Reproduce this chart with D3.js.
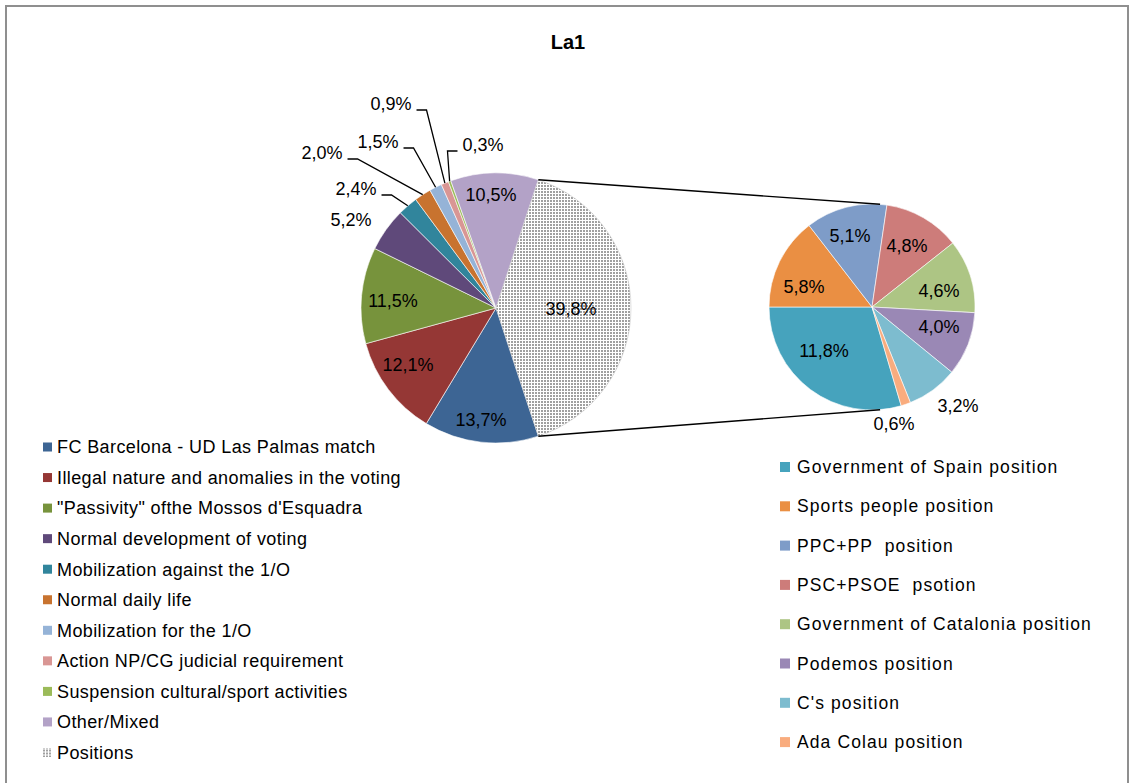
<!DOCTYPE html>
<html><head>
<meta charset="utf-8">
<script src="https://d3js.org/d3.v7.min.js"></script>
<title>La1</title>
<style>
body{margin:0;background:#fff;}
text{font-family:"Liberation Sans", Arial, sans-serif; fill:#000;}
</style>
</head>
<body>
<div id="chart"></div>
<script>
// categories + values (%)
const mainCats = ["FC Barcelona - UD Las Palmas match", "Illegal nature and anomalies in the voting",
  "\"Passivity\" ofthe Mossos d'Esquadra", "Normal development of voting", "Mobilization against the 1/O",
  "Normal daily life", "Mobilization for the 1/O", "Action NP/CG judicial requirement",
  "Suspension cultural/sport activities", "Other/Mixed", "Positions"];
const mainVals = [13.7, 12.1, 11.5, 5.2, 2.4, 2.0, 1.5, 0.9, 0.3, 10.5, 39.8];
const mainColors = ["#3d6594", "#953735", "#77933c", "#5f497a", "#31859c", "#c8732f",
  "#95b3d7", "#d99694", "#9bbb59", "#b3a2c7", "url(#dots)"];

const subCats = ["Government of Spain position", "Sports people position", "PPC+PP  position",
  "PSC+PSOE  psotion", "Government of Catalonia position", "Podemos position", "C's position", "Ada Colau position"];
const subVals = [11.8, 5.8, 5.1, 4.8, 4.6, 4.0, 3.2, 0.6];
const subColors = ["#46a3bd", "#ea8f43", "#7e9cc8", "#cd7c7a", "#adc584", "#9a88b5", "#7dbccf", "#f9ac7e"];

// label placement (offset from pie centre), leader = draw a leader line
const mainLabelPos = [[-15,112],[-88,57],[-103,-7],[-145,-88],[-140,-119],[-174,-155],[-118,-166],[-105,-204],[-13,-163],[-5,-113],[75,1]];
const mainLeader = [0,0,0,0,1,1,1,1,1,0,0];
const subLabelPos = [[-48,44],[-68,-20],[-22,-71],[35,-61],[67,-16],[67,20],[86,99],[22,117]];

const W = 1132, H = 783;
const fmt = v => d3.format(".1f")(v).replace(".", ",") + "%";

const svg = d3.select("#chart").append("svg")
  .attr("width", W).attr("height", H);

const defs = svg.append("defs");
const pat = defs.append("pattern").attr("id", "dots")
  .attr("patternUnits", "userSpaceOnUse").attr("width", 3).attr("height", 3);
pat.append("rect").attr("width", 3).attr("height", 3).attr("fill", "#fff");
pat.append("rect").attr("width", 2).attr("height", 2).attr("fill", "#a0a0a0");

// frame
svg.append("rect").attr("x", 6).attr("y", 6).attr("width", 1122).attr("height", 800)
  .attr("fill", "none").attr("stroke", "#8f8f8f").attr("stroke-width", 2);

svg.append("text").attr("x", 568).attr("y", 49).attr("text-anchor", "middle")
  .style("font-size", "20px").style("font-weight", "bold").text("La1");

// main pie
const cx = 496, cy = 308, R = 135;
const posShare = mainVals[mainVals.length-1] / d3.sum(mainVals);
const pieMain = d3.pie().sort(null).value(d => d)
  .startAngle(Math.PI/2 + posShare*Math.PI).endAngle(Math.PI/2 + posShare*Math.PI + 2*Math.PI);
const arcMain = d3.arc().innerRadius(0).outerRadius(R);
const mainArcs = pieMain(mainVals);

const gMain = svg.append("g").attr("transform", `translate(${cx},${cy})`);
gMain.selectAll("path").data(mainArcs).enter().append("path")
  .attr("d", arcMain)
  .attr("fill", (d,i) => mainColors[i])
  .attr("stroke", (d,i) => i == mainVals.length-1 ? "#c8c8c8" : "#fff")
  .attr("stroke-width", 0.6);

// sub pie
const sx = 872, sy = 307, r2 = 103;
const subStart = 1.5*Math.PI - subVals[0]/d3.sum(subVals)*2*Math.PI;
const pieSub = d3.pie().sort(null).value(d => d)
  .startAngle(subStart).endAngle(subStart + 2*Math.PI);
const arcSub = d3.arc().innerRadius(0).outerRadius(r2);
const subArcs = pieSub(subVals);
const gSub = svg.append("g").attr("transform", `translate(${sx},${sy})`);
gSub.selectAll("path").data(subArcs).enter().append("path")
  .attr("d", arcSub)
  .attr("fill", (d,i) => subColors[i])
  .attr("stroke", "#fff").attr("stroke-width", 0.6);

// connector lines between the two pies
const pt = (x, y, rad, a) => [x + rad*Math.sin(a), y - rad*Math.cos(a)];
const posArc = mainArcs[mainArcs.length-1];
const joinA = 4.5 * Math.PI/180;
[[posArc.startAngle, joinA], [posArc.endAngle, Math.PI - joinA]].forEach(([a1, a2]) => {
  const p1 = pt(cx, cy, R, a1), p2 = pt(sx, sy, r2, a2);
  svg.append("line").attr("x1", p1[0]).attr("y1", p1[1]).attr("x2", p2[0]).attr("y2", p2[1])
    .attr("stroke", "#000").attr("stroke-width", 1.4);
});

// main labels
mainArcs.forEach((d, i) => {
  const [dx, dy] = mainLabelPos[i];
  const t = gMain.append("text").attr("x", dx).attr("y", dy)
    .attr("text-anchor", "middle").attr("dy", "0.35em")
    .style("font-size", "18px").text(fmt(mainVals[i]));
  if (mainLeader[i]) {
    const bb = t.node().getBBox();
    const mid = (d.startAngle + d.endAngle)/2;
    const e = [R*Math.sin(mid), -R*Math.cos(mid)];
    const right = e[0] > dx;
    const x0 = right ? bb.x + bb.width + 5 : bb.x - 5;
    const y0 = dy + 6;
    const x1 = right ? x0 + 10 : x0 - 10;
    gMain.append("polyline")
      .attr("points", [[x0,y0],[x1,y0],e].map(p => p.join(",")).join(" "))
      .attr("fill", "none").attr("stroke", "#000").attr("stroke-width", 1.3);
  }
});

subArcs.forEach((d, i) => {
  const [dx, dy] = subLabelPos[i];
  gSub.append("text").attr("x", dx).attr("y", dy)
    .attr("text-anchor", "middle").attr("dy", "0.35em")
    .style("font-size", "18px").text(fmt(subVals[i]));
});

// legends
const legL = svg.append("g").attr("transform", "translate(43,447)");
mainCats.forEach((c, i) => {
  const g = legL.append("g").attr("transform", `translate(0,${i*30.55})`);
  g.append("rect").attr("x", 0).attr("y", -4.5).attr("width", 9).attr("height", 9)
    .attr("fill", mainColors[i]);
  g.append("text").attr("x", 14).attr("dy", "0.35em")
    .style("font-size", "18px").style("letter-spacing", "0.4px").text(c);
});

const legR = svg.append("g").attr("transform", "translate(780,467)");
subCats.forEach((c, i) => {
  const g = legR.append("g").attr("transform", `translate(0,${i*39.3})`);
  g.append("rect").attr("x", 0).attr("y", -5).attr("width", 10).attr("height", 10)
    .attr("fill", subColors[i]);
  g.append("text").attr("x", 17).attr("dy", "0.35em")
    .style("font-size", "17.5px").style("letter-spacing", "1.1px").style("white-space", "pre").text(c);
});
</script>
</body>
</html>
